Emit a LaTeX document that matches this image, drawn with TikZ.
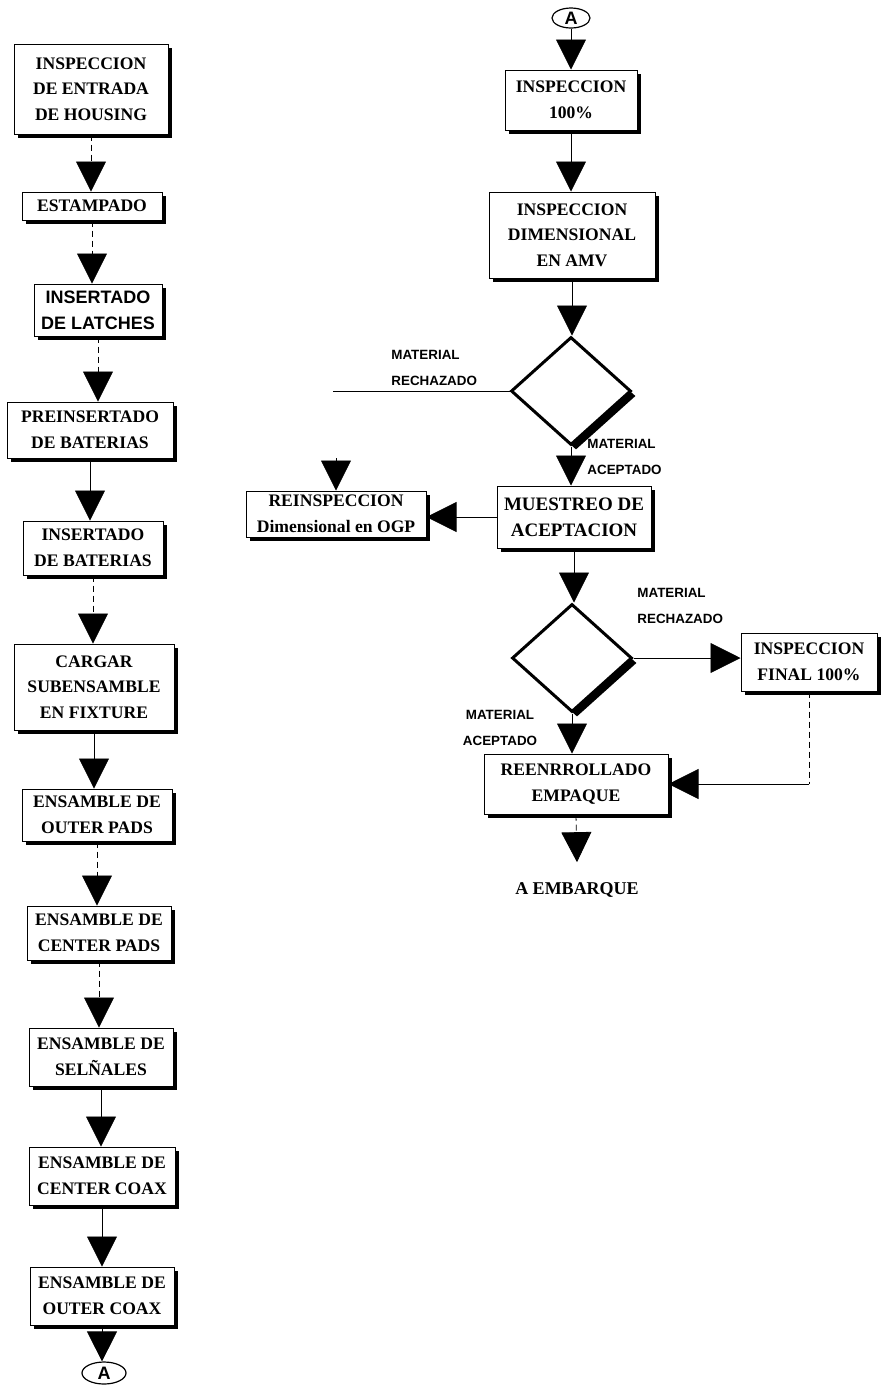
\documentclass[tikz,border=0pt]{standalone}
\usepackage{fontspec}
\setmainfont{Liberation Serif}
\newfontfamily\etiqfont{Liberation Sans}
\usetikzlibrary{shapes.geometric,arrows.meta,shadows}

\tikzset{
  caja/.style={draw, line width=0.5pt, fill=white, align=center, inner sep=1pt,
    font=\fontsize{8.8}{12.8}\selectfont\bfseries,
    drop shadow={shadow xshift=1.8pt, shadow yshift=-1.8pt, fill=black, opacity=1}},
  rombo/.style={diamond, draw, line width=1.5pt, fill=white, inner sep=0pt,
    minimum width=60pt, minimum height=54pt,
    drop shadow={shadow xshift=2.5pt, shadow yshift=-2.5pt, fill=black, opacity=1}},
  flecha/.style={line width=0.4pt, -{Triangle[width=15pt,length=15pt]}},
  etiq/.style={font=\etiqfont\fontsize{6.7}{13}\selectfont\bfseries, align=left, inner sep=0pt},
  conect/.style={ellipse, draw, line width=0.6pt, inner sep=0pt,
    font=\etiqfont\fontsize{9}{9}\selectfont\bfseries}
}

\begin{document}
\begin{tikzpicture}[x=0.5pt, y=-0.5pt]
                \useasboundingbox (0,0) rectangle (882,1388);
                \node[caja, minimum width=77pt, minimum height=45pt] (b1) at (91,89) {INSPECCION\\DE ENTRADA\\DE HOUSING};
                \node[caja, minimum width=70pt, minimum height=14pt] (b2) at (92,206) {ESTAMPADO};
                \node[caja, minimum width=64pt, minimum height=26pt, font=\etiqfont\fontsize{9}{12.8}\selectfont\bfseries] (b3) at (98,310) {INSERTADO\\DE LATCHES};
                \node[caja, minimum width=83pt, minimum height=28pt] (b4) at (90,430) {PREINSERTADO\\DE BATERIAS};
                \node[caja, minimum width=70pt, minimum height=27pt] (b5) at (93,548) {INSERTADO\\DE BATERIAS};
                \node[caja, minimum width=80pt, minimum height=43pt] (b6) at (94,687) {CARGAR\\SUBENSAMBLE\\EN FIXTURE};
                \node[caja, minimum width=75pt, minimum height=26pt] (b7) at (97,815) {ENSAMBLE DE\\OUTER PADS};
                \node[caja, minimum width=72pt, minimum height=27pt] (b8) at (99,933) {ENSAMBLE DE\\CENTER PADS};
                \node[caja, minimum width=72pt, minimum height=29pt] (b9) at (101,1057) {ENSAMBLE DE\\SELÑALES};
                \node[caja, minimum width=73pt, minimum height=29pt] (b10) at (102,1176) {ENSAMBLE DE\\CENTER COAX};
                \node[caja, minimum width=72pt, minimum height=29pt] (b11) at (102,1296) {ENSAMBLE DE\\OUTER COAX};
                \node[conect, minimum width=22pt, minimum height=11pt] (aB) at (104,1373) {A};
                \draw[flecha, densely dashed] (b1.south) -- (b1.south |- b2.north);
                \draw[flecha, densely dashed] (b2.south) -- (b2.south |- b3.north);
                \draw[flecha, densely dashed] (b3.south) -- (b3.south |- b4.north);
                \draw[flecha] (b4.south) -- (b4.south |- b5.north);
                \draw[flecha, densely dashed] (b5.south) -- (b5.south |- b6.north);
                \draw[flecha] (b6.south) -- (b6.south |- b7.north);
                \draw[flecha, densely dashed] (b7.south) -- (b7.south |- b8.north);
                \draw[flecha, densely dashed] (b8.south) -- (b8.south |- b9.north);
                \draw[flecha] (b9.south) -- (b9.south |- b10.north);
                \draw[flecha] (b10.south) -- (b10.south |- b11.north);
                \draw[flecha] (b11.south) -- (b11.south |- aB.north);
                \node[conect, minimum width=19pt, minimum height=10pt] (aT) at (571,18) {A};
                \node[caja, minimum width=66pt, minimum height=30pt] (r1) at (571,100) {INSPECCION\\100\%};
                \node[caja, minimum width=83pt, minimum height=43pt] (r2) at (572,235) {INSPECCION\\DIMENSIONAL\\EN AMV};
                \node[rombo] (d1) at (571,391) {};
                \node[caja, minimum width=77pt, minimum height=31pt, font=\fontsize{9.5}{12.8}\selectfont\bfseries] (r3) at (574,517) {MUESTREO DE\\ACEPTACION};
                \node[caja, minimum width=90pt, minimum height=23pt] (r4) at (336,514) {REINSPECCION\\Dimensional en OGP};
                \node[rombo] (d2) at (572,658) {};
                \node[caja, minimum width=68pt, minimum height=29pt] (r5) at (809,662) {INSPECCION\\FINAL 100\%};
                \node[caja, minimum width=92pt, minimum height=30pt] (r6) at (576,784) {REENRROLLADO\\EMPAQUE};
                \node[font=\fontsize{9}{9}\selectfont\bfseries, inner sep=1pt] (fin) at (577,890) {A EMBARQUE};
                \node[etiq, anchor=west] (e1) at (391,368) {MATERIAL\\RECHAZADO};
                \node[etiq, anchor=west] (e2) at (587,457) {MATERIAL\\ACEPTADO};
                \node[etiq, anchor=west] (e3) at (637,606) {MATERIAL\\RECHAZADO};
                \node[etiq, align=center] (e4) at (500,728) {MATERIAL\\ACEPTADO};
                \coordinate (rc) at (333,391);
                \coordinate (rt) at (336,458);
                \coordinate (k) at (r5.south |- r6.east);
                \draw[flecha] (aT.south) -- (r1.north);
                \draw[flecha] (r1.south) -- (r1.south |- r2.north);
                \draw[flecha] (r2.south) -- (r2.south |- d1.north);
                \draw[line width=0.4pt] (d1.west) -- (rc);
                \draw[flecha] (rt) -- (r4.north);
                \draw[flecha] (d1.south) -- (d1.south |- r3.north);
                \draw[flecha] (r3.west) -- (r3.west -| r4.east);
                \draw[flecha] (r3.south) -- (r3.south |- d2.north);
                \draw[flecha] (d2.east) -- (d2.east -| r5.west);
                \draw[flecha] (d2.south) -- (d2.south |- r6.north);
                \draw[line width=0.4pt, densely dashed] (r5.south) -- (k);
                \draw[flecha] (k) -- (r6.east);
                \draw[flecha, densely dashed] (r6.south) -- ([yshift=9pt]fin.north);
            \end{tikzpicture}
\end{document}
